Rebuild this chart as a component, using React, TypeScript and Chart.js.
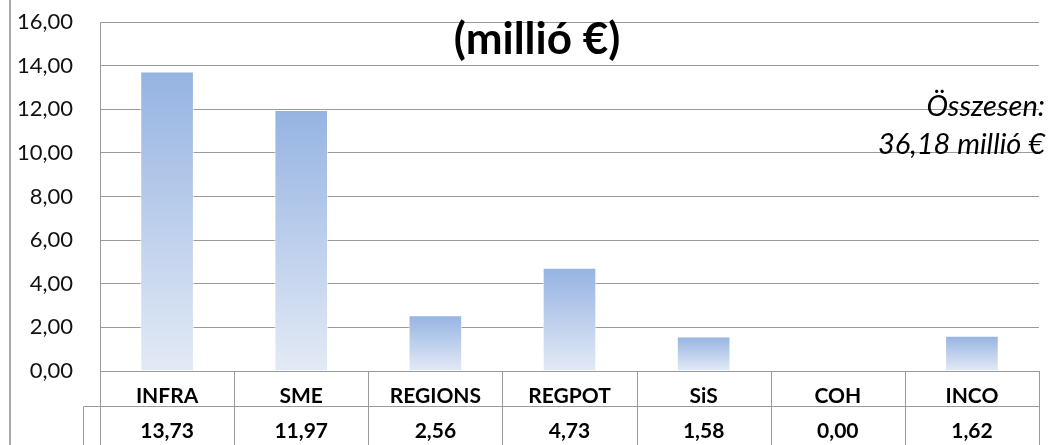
import React, { useEffect, useRef } from 'react';
import { Chart, registerables } from 'chart.js';

Chart.register(...registerables);

const categories = ['INFRA', 'SME', 'REGIONS', 'REGPOT', 'SiS', 'COH', 'INCO'];
const values = [13.73, 11.97, 2.56, 4.73, 1.58, 0.0, 1.62];
const yMin = 0;
const yMax = 16;
const yStep = 2;
const titleText = '(millió €)';
const noteLines = ['Összesen:', '36,18 millió €'];

const FONT = 'Lato, "DejaVu Sans", sans-serif';
const fmt = (v: number) => v.toFixed(2).replace('.', ',');

const decorPlugin = {
  id: 'decor',
  afterDraw(chart: any) {
    const { ctx } = chart;
    const xs = chart.scales.x;
    const ys = chart.scales.y;
    ctx.save();
    // outer frame (left edge)
    ctx.fillStyle = '#a8a8a8';
    ctx.fillRect(9, 0, 2, chart.height);

    // data table lines
    ctx.strokeStyle = '#9a9a9a';
    ctx.lineWidth = 1;
    const n = categories.length;
    const step = xs.getPixelForValue(1) - xs.getPixelForValue(0);
    const top = ys.bottom;
    const bottom = chart.height;
    const rowY = Math.round(top + 35) + 0.5;
    ctx.beginPath();
    for (let i = 0; i <= n; i++) {
      const px = Math.round(xs.getPixelForValue(0) - step / 2 + i * step) + 0.5;
      ctx.moveTo(px, top);
      ctx.lineTo(px, bottom);
    }
    const keyLeft = Math.round(xs.left - 17) + 0.5;
    ctx.moveTo(keyLeft, rowY);
    ctx.lineTo(keyLeft, bottom);
    ctx.moveTo(keyLeft, rowY);
    ctx.lineTo(xs.right, rowY);
    ctx.stroke();

    // title
    ctx.fillStyle = '#000';
    ctx.font = `bold 44px ${FONT}`;
    ctx.textAlign = 'center';
    ctx.textBaseline = 'alphabetic';
    ctx.fillText(titleText, 537, 54);

    // note
    ctx.font = `italic 29px ${FONT}`;
    ctx.textAlign = 'right';
    ctx.fillText(noteLines[0], 1045, 116);
    ctx.fillText(noteLines[1], 1045, 154);
    ctx.restore();
  },
};

export default function App() {
  const ref = useRef<HTMLCanvasElement>(null);
  useEffect(() => {
    if (!ref.current) return;
    const chart = new Chart(ref.current, {
      type: 'bar',
      data: {
        labels: categories.map((c, i) => [c, fmt(values[i])]),
        datasets: [
          {
            data: values,
            barPercentage: 0.4,
            categoryPercentage: 1,
            borderWidth: 1,
            borderColor: 'rgba(255,255,255,0.7)',
            borderSkipped: 'bottom',
            backgroundColor: (c: any) => {
              const chart = c.chart;
              if (!chart.chartArea || c.type !== 'data') return '#a9c0e8';
              const ys = chart.scales.y;
              const t = ys.getPixelForValue(c.raw as number);
              const b = ys.getPixelForValue(0);
              if (b - t < 1) return '#95B3E2';
              const g = chart.ctx.createLinearGradient(0, t, 0, b);
              g.addColorStop(0, '#95B3E2');
              g.addColorStop(1, '#E3EAF6');
              return g;
            },
          },
        ],
      },
      options: {
        responsive: false,
        animation: false,
        layout: { padding: { left: 0, right: 13, top: 22, bottom: 0 } },
        plugins: {
          legend: { display: false },
          tooltip: { enabled: false },
          title: { display: false },
        },
        scales: {
          x: {
            grid: { display: false },
            border: { display: false },
            ticks: {
              autoSkip: false,
              maxRotation: 0,
              padding: 0,
              color: '#000',
              font: { family: FONT, size: 21, weight: 'bold', lineHeight: '35px' },
            },
            afterFit: (s: any) => {
              s.height = 74;
              s.paddingTop = 0;
              s.paddingBottom = 0;
            },
          },
          y: {
            min: yMin,
            max: yMax,
            ticks: {
              stepSize: yStep,
              padding: 27,
              color: '#111',
              font: { family: FONT, size: 22, lineHeight: 1.2 },
              callback: (v: any) => fmt(Number(v)),
            },
            grid: { color: '#9a9a9a', lineWidth: 1, drawTicks: false },
            border: { display: true, color: '#9a9a9a' },
            afterFit: (s: any) => {
              s.width = 100;
              s.paddingTop = 0;
              s.paddingBottom = 0;
            },
          },
        },
      },
      plugins: [decorPlugin],
    });
    return () => chart.destroy();
  }, []);
  return (
    <div style={{ position: 'absolute', left: 0, top: 0, width: 1052, height: 445 }}>
      <canvas ref={ref} width={1052} height={445} style={{ display: 'block' }} />
    </div>
  );
}
